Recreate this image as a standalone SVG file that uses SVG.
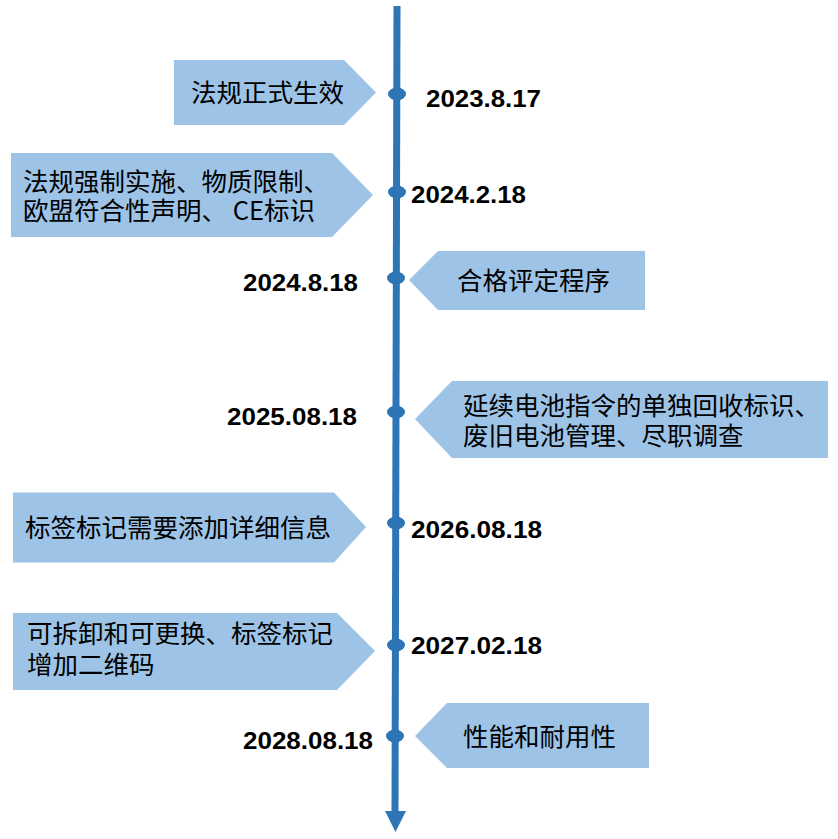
<svg xmlns="http://www.w3.org/2000/svg" width="838" height="839" viewBox="0 0 838 839">
<style>
.box{fill:#9DC3E6}
.lbl{font-family:"Noto Sans CJK SC","Liberation Sans",sans-serif;font-size:25.5px;fill:#000}
.date{font-family:"Liberation Sans",Arial,sans-serif;font-size:24px;font-weight:bold;fill:#000}
.dot{fill:#2E75B6}
</style>
<rect width="838" height="839" fill="#fff"/>
<g id="connectors">
<line x1="397" y1="6" x2="395" y2="812" stroke="#2E75B6" stroke-width="7"/>
<polygon points="385,811 406,811 395.5,832" fill="#2E75B6"/>
</g>
<g id="dots">
<ellipse class="dot" cx="397" cy="94" rx="9" ry="6.5"/>
<ellipse class="dot" cx="397" cy="192" rx="9" ry="6.5"/>
<ellipse class="dot" cx="396" cy="278" rx="9" ry="6.5"/>
<ellipse class="dot" cx="396" cy="412" rx="9" ry="6.5"/>
<ellipse class="dot" cx="396" cy="523" rx="9" ry="6.5"/>
<ellipse class="dot" cx="396" cy="645" rx="9" ry="6.5"/>
<ellipse class="dot" cx="395" cy="736" rx="9" ry="6.5"/>
</g>
<g id="n1">
<polygon class="box" points="174,60 344,60 376,92.5 344,125 174,125"/>
<text class="lbl" x="191" y="102">法规正式生效</text>
<text class="date" x="426" y="106.5" textLength="115" lengthAdjust="spacingAndGlyphs">2023.8.17</text>
</g>
<g id="n2">
<polygon class="box" points="11,153 332,153 373,195 332,237 11,237"/>
<text class="lbl" x="23" y="191">法规强制实施、物质限制、</text>
<text class="lbl" x="23" y="220">欧盟符合性声明、 CE标识</text>
<text class="date" x="411" y="202.5" textLength="115" lengthAdjust="spacingAndGlyphs">2024.2.18</text>
</g>
<g id="n3">
<polygon class="box" points="409,280 438,251 645,251 645,310 438,310"/>
<text class="lbl" x="457" y="290">合格评定程序</text>
<text class="date" x="243" y="290.5" textLength="115" lengthAdjust="spacingAndGlyphs">2024.8.18</text>
</g>
<g id="n4">
<polygon class="box" points="415,419 452,381 828,381 828,458 452,458"/>
<text class="lbl" x="463" y="415">延续电池指令的单独回收标识、</text>
<text class="lbl" x="463" y="445">废旧电池管理、尽职调查</text>
<text class="date" x="227" y="424.5" textLength="130" lengthAdjust="spacingAndGlyphs">2025.08.18</text>
</g>
<g id="n5">
<polygon class="box" points="13,492.5 334,492.5 366,527 334,562.5 13,562.5"/>
<text class="lbl" x="25" y="537">标签标记需要添加详细信息</text>
<text class="date" x="411" y="537.5" textLength="131" lengthAdjust="spacingAndGlyphs">2026.08.18</text>
</g>
<g id="n6">
<polygon class="box" points="13,613 337,613 375,651 337,690 13,690"/>
<text class="lbl" x="27" y="643">可拆卸和可更换、标签标记</text>
<text class="lbl" x="27" y="674">增加二维码</text>
<text class="date" x="411" y="653.5" textLength="131" lengthAdjust="spacingAndGlyphs">2027.02.18</text>
</g>
<g id="n7">
<polygon class="box" points="415,736 447,703 649,703 649,768 447,768"/>
<text class="lbl" x="463" y="746">性能和耐用性</text>
<text class="date" x="243" y="748.5" textLength="130" lengthAdjust="spacingAndGlyphs">2028.08.18</text>
</g>
</svg>
